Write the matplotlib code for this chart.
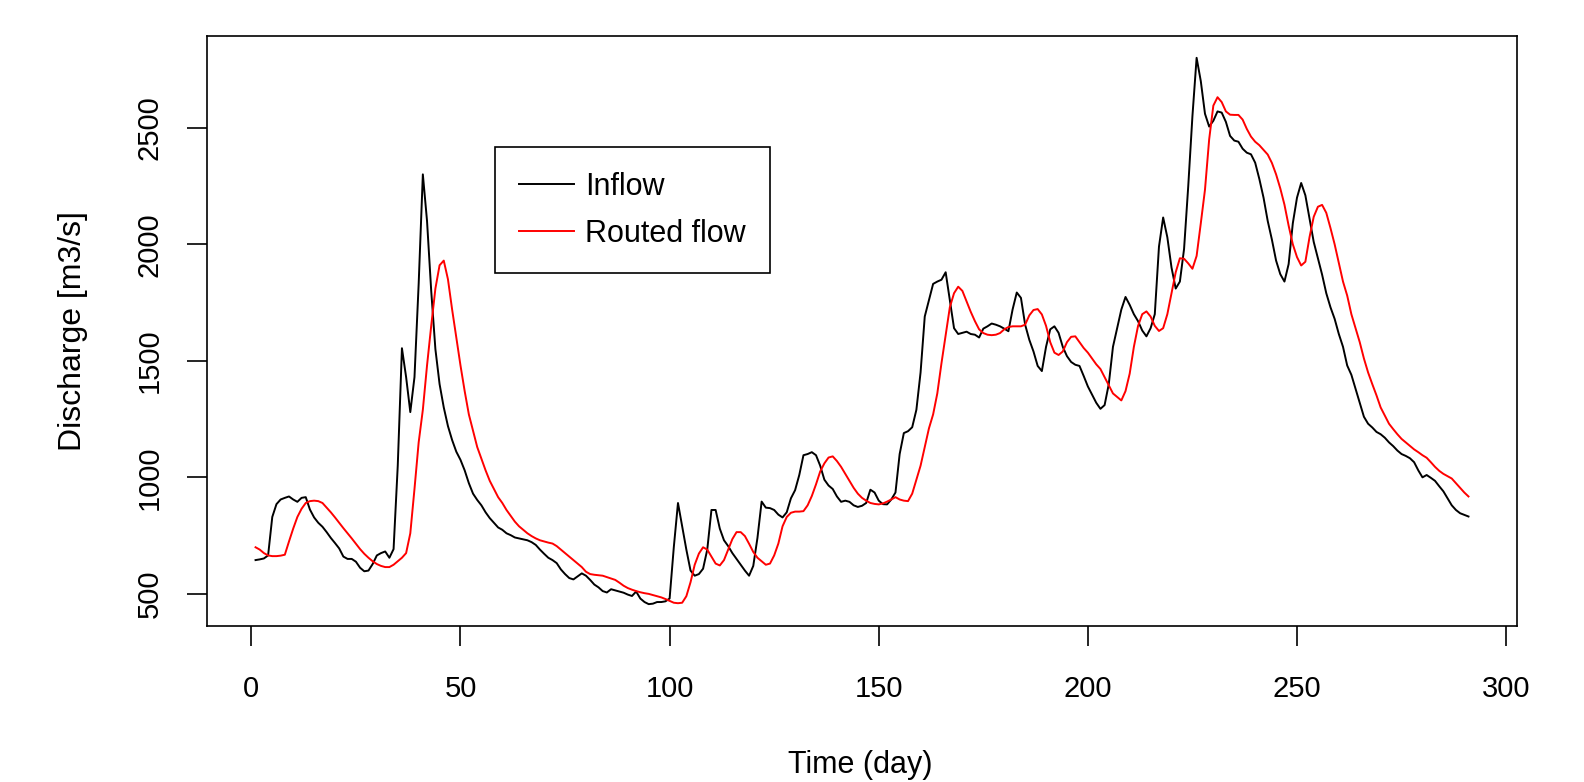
import numpy as np
import matplotlib
matplotlib.use("Agg")
import matplotlib.pyplot as plt

plt.rcParams['font.family'] = ['Liberation Sans', 'DejaVu Sans']

# daily discharge (m3/s)
inflow = [
    645, 648, 652, 665, 830, 885, 905, 912, 918, 905,
    895, 912, 915, 862, 828, 805, 788, 765, 740, 718,
    695, 660, 650, 650, 638, 612, 597, 600, 628, 665,
    675, 682, 655, 692, 1050, 1554, 1430, 1280, 1430, 1830,
    2300, 2100, 1800, 1550, 1400, 1300, 1220, 1160, 1110, 1075,
    1030, 975, 930, 903, 880, 850, 825, 805, 785, 775,
    760, 752, 742, 738, 734, 730, 722, 710, 690, 672,
    655, 645, 632, 605, 585, 568, 562, 575, 588, 578,
    560, 540, 528, 512, 506, 520, 515, 510, 505, 497,
    491, 510, 480, 465, 456, 458, 465, 465, 468, 480,
    700, 890, 790, 690, 600, 578, 585, 608, 690, 860,
    860, 780, 730, 705, 675, 650, 625, 600, 578, 620,
    740, 896, 870, 868, 860, 840, 828, 850, 910, 945,
    1010, 1095, 1100, 1108, 1095, 1050, 990, 965, 950, 918,
    895, 900, 895, 880, 873, 878, 890, 947, 935, 900,
    885, 884, 905, 935, 1100, 1190, 1198, 1215, 1290, 1450,
    1690, 1760, 1830, 1840, 1848, 1880, 1760, 1640, 1615, 1620,
    1625, 1615, 1612, 1600, 1638, 1648, 1660, 1655, 1648, 1638,
    1627, 1720, 1793, 1770, 1655, 1590, 1540, 1478, 1456, 1560,
    1635, 1648, 1620, 1560, 1520, 1495, 1483, 1478, 1435, 1390,
    1355, 1320, 1294, 1310, 1400, 1560, 1640, 1720, 1774, 1740,
    1700, 1670, 1630, 1605, 1640, 1700, 1990, 2115, 2030, 1900,
    1810, 1840, 1980, 2250, 2550, 2800, 2700, 2560, 2505, 2530,
    2570, 2565, 2525, 2465, 2445, 2440, 2410, 2393, 2386, 2350,
    2280, 2200, 2100, 2020, 1930, 1872, 1840, 1915, 2090, 2200,
    2263, 2210, 2110, 2010, 1940, 1870, 1790, 1730, 1680, 1615,
    1560, 1480, 1440, 1380, 1320, 1260, 1230, 1214, 1195, 1185,
    1170, 1150, 1134, 1115, 1100, 1092, 1082, 1065, 1030, 1000,
    1010, 998, 985, 962, 940, 910, 880, 860, 846, 839,
    832,
]

routed = [
    700, 690, 675, 665, 662, 662, 664, 668, 725, 780,
    830, 865, 890, 898, 900, 898, 890, 870, 850, 828,
    805, 782, 760, 738, 715, 692, 672, 655, 640, 628,
    620, 615, 615, 625, 640, 655, 675, 760, 950, 1150,
    1290, 1480, 1650, 1810, 1910, 1930, 1850, 1720, 1600, 1480,
    1370, 1270, 1200, 1130, 1080, 1030, 985, 950, 915, 890,
    860, 835, 810, 790, 775, 760, 748, 738, 730, 725,
    720, 716, 705, 690, 675, 660, 645, 630, 615, 595,
    585, 582, 580, 578, 572, 566, 560, 548, 535, 525,
    518, 512, 507, 503, 500, 495, 490, 485, 478, 470,
    462, 460, 462, 490, 550, 625, 673, 700, 690, 660,
    630, 622, 645, 690, 735, 765, 765, 748, 715, 680,
    655, 640, 625, 630, 665, 716, 790, 830, 848, 853,
    853, 855, 880, 920, 970, 1025, 1060, 1085, 1090, 1070,
    1045, 1015, 985, 955, 930, 912, 900, 890, 886, 884,
    888, 896, 905, 915, 905, 900, 898, 930, 990, 1050,
    1130, 1210, 1270, 1360, 1490, 1610, 1730, 1790, 1818, 1800,
    1755, 1710, 1670, 1635, 1619, 1612, 1610, 1612, 1619, 1635,
    1645, 1648, 1648, 1648, 1655, 1695, 1718, 1722, 1699, 1650,
    1580, 1535, 1525, 1540, 1580, 1603, 1605, 1580, 1555, 1535,
    1510, 1485, 1465, 1430, 1395, 1360, 1345, 1330, 1370, 1445,
    1560, 1650, 1700, 1712, 1690, 1650, 1628, 1640, 1700, 1790,
    1880, 1940, 1938, 1918, 1895, 1950, 2090, 2234, 2450, 2595,
    2631, 2610, 2570, 2556, 2555, 2555, 2535, 2495, 2462, 2440,
    2425, 2405, 2385, 2349, 2300, 2240, 2170, 2080, 2000, 1945,
    1909, 1925, 2031, 2118, 2161, 2169, 2135, 2070, 2000, 1920,
    1840, 1780, 1700, 1640, 1580, 1510, 1450, 1400, 1352, 1300,
    1265, 1230, 1207, 1185, 1165, 1150, 1135, 1120, 1108, 1095,
    1084, 1065, 1045, 1028, 1015, 1005, 995, 975, 955, 935,
    918,
]

days = np.arange(1, len(inflow) + 1)
x_ticks = [0, 50, 100, 150, 200, 250, 300]
y_ticks = [500, 1000, 1500, 2000, 2500]

fig = plt.figure(figsize=(15.84, 7.82), dpi=100)
ax = fig.add_axes([0.1307, 0.1995, 0.827, 0.7545])

ax.plot(days, inflow, color="black", lw=1.4, label="Inflow")
ax.plot(days, routed, color="red", lw=1.4, label="Routed flow")

# R style 4% padding on both axes
lo = min(min(inflow), min(routed))
hi = max(max(inflow), max(routed))
ax.set_xlim(days[0] - 0.04 * (days[-1] - days[0]), days[-1] + 0.04 * (days[-1] - days[0]))
ax.set_ylim(lo - 0.04 * (hi - lo), hi + 0.04 * (hi - lo))

ax.set_xticks(x_ticks)
ax.set_yticks(y_ticks)
ax.tick_params(axis="both", direction="out", length=14.4, width=1.2, labelsize=21, color="black")
ax.tick_params(axis="x", pad=21)
ax.tick_params(axis="y", pad=17)
for lab in ax.get_yticklabels():
    lab.set_rotation(90)
    lab.set_va("center")
for sp in ax.spines.values():
    sp.set_linewidth(1.2)

ax.set_xlabel("Time (day)", fontsize=22)
ax.set_ylabel("Discharge [m3/s]", fontsize=23)
ax.xaxis.set_label_coords(0.499, -0.21)
ax.yaxis.set_label_coords(-0.091, 0.5)

leg = ax.legend(loc="upper left", bbox_to_anchor=(0.3125, 0.8114),
                bbox_transform=fig.transFigure, fontsize=22, fancybox=False,
                edgecolor="black", framealpha=1, handlelength=1.8,
                borderpad=0.8, labelspacing=0.55, handletextpad=0.35, borderaxespad=0)
leg.get_frame().set_linewidth(1.2)

fig.savefig("out.png", dpi=100)
